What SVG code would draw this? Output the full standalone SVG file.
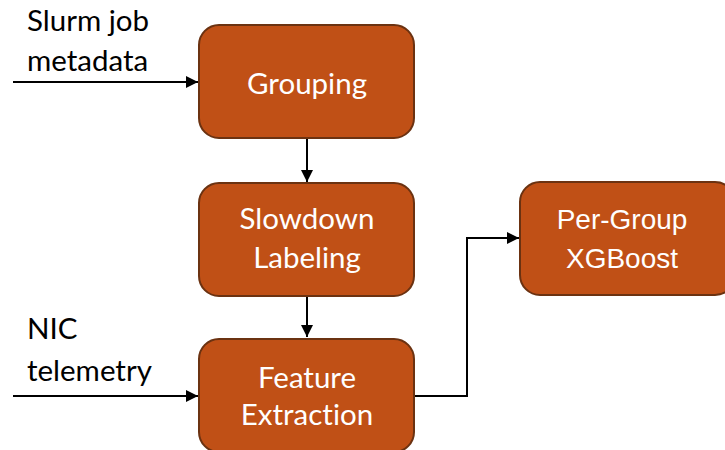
<svg xmlns="http://www.w3.org/2000/svg" width="725" height="450" viewBox="0 0 725 450">
<style>
.box{fill:#C05016;stroke:#6B3211;stroke-width:2}
.t{font-family:Lato,"Open Sans",sans-serif;font-size:29.5px;fill:#fff;text-anchor:middle;font-variant-ligatures:none}
.ta{font-family:"Liberation Sans",Arial,sans-serif;font-size:28px;fill:#fff;text-anchor:middle}
.l{font-family:Lato,"Open Sans",sans-serif;font-size:29.5px;fill:#000;font-variant-ligatures:none}
.c{fill:none;stroke:#000;stroke-width:2}
</style>
<defs>
<marker id="ah" viewBox="0 0 10 10" refX="10" refY="5" markerWidth="6" markerHeight="6" orient="auto" markerUnits="strokeWidth">
<path d="M0,0 L10,5 L0,10 z" fill="#000"/>
</marker>
</defs>
<g id="connectors">
<path class="c" d="M13,82 H198" marker-end="url(#ah)"/>
<path class="c" d="M13,396 H198" marker-end="url(#ah)"/>
<path class="c" d="M307,139 V182" marker-end="url(#ah)"/>
<path class="c" d="M307,297 V337" marker-end="url(#ah)"/>
<path class="c" d="M415,396 H467 V238 H519" marker-end="url(#ah)"/>
</g>
<g id="label-slurm">
<text class="l" x="27" y="31">Slurm job</text>
<text class="l" x="27" y="71">metadata</text>
</g>
<g id="label-nic">
<text class="l" x="27" y="339">NIC</text>
<text class="l" x="27" y="381">telemetry</text>
</g>
<g id="grouping">
<rect class="box" x="199" y="25" width="215" height="113" rx="20"/>
<text class="t" x="307" y="94">Grouping</text>
</g>
<g id="slowdown">
<rect class="box" x="199" y="183" width="215" height="113" rx="20"/>
<text class="t" x="307" y="229">Slowdown</text>
<text class="t" x="307" y="268">Labeling</text>
</g>
<g id="feature">
<rect class="box" x="199" y="339" width="215" height="113" rx="20"/>
<text class="t" x="307" y="388">Feature</text>
<text class="t" x="307" y="425">Extraction</text>
</g>
<g id="xgboost">
<rect class="box" x="520" y="182" width="215" height="113" rx="20"/>
<text class="ta" x="622" y="229">Per-Group</text>
<text class="ta" x="622" y="268">XGBoost</text>
</g>
</svg>
